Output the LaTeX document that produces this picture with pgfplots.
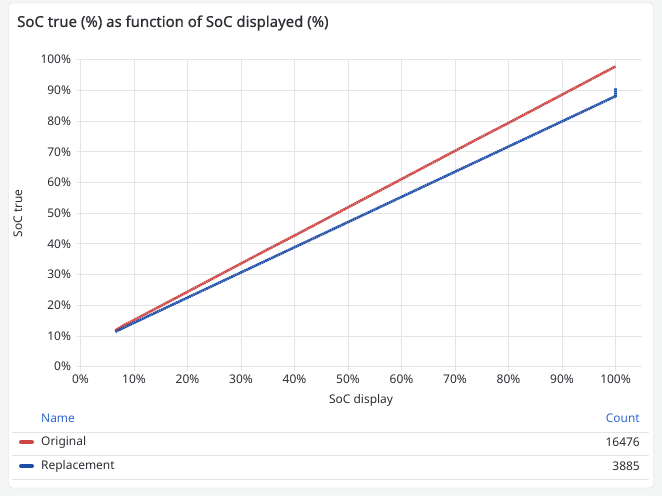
\documentclass[border=0pt]{standalone}
\usepackage{fontspec}
\setmainfont{Noto Sans}
\newfontfamily\titlefont{Noto Sans}[FakeBold=0.6]
\usepackage{pgfplots}
\pgfplotsset{compat=1.18}

\definecolor{pagebg}{HTML}{F4F5F5}
\definecolor{cardline}{HTML}{DCDDDE}
\definecolor{gridc}{HTML}{E4E5E6}
\definecolor{txt}{HTML}{2B2E33}
\definecolor{linkblue}{HTML}{3368D0}
\definecolor{origred}{HTML}{CC4646}
\definecolor{replblue}{HTML}{1F4EA8}

% SoC true vs SoC displayed, original battery
\pgfplotstableread{
x     y
6.5   11.8
8     13.4
10    15.2
15    19.8
20    24.4
25    29.0
30    33.6
35    38.2
40    42.7
45    47.3
50    51.9
55    56.5
60    61.1
65    65.7
70    70.3
75    74.9
80    79.4
85    84.0
90    88.6
95    93.2
100   97.8
}\original

% SoC true vs SoC displayed, replacement battery
\pgfplotstableread{
x     y
6.5   11.4
10    14.3
15    18.4
20    22.5
25    26.6
30    30.7
35    34.8
40    38.9
45    43.0
50    47.1
55    51.2
60    55.3
65    59.4
70    63.5
75    67.6
80    71.7
85    75.8
90    79.9
95    84.0
99    87.3
100   88.1
100   89.2
100   90.7
}\replacement

\begin{document}
\begin{tikzpicture}[x=1bp,y=1bp]
% panel background and card
\fill[pagebg] (0,0) rectangle (662,496);
\draw[cardline,fill=white,rounded corners=4bp] (8.5,8) rectangle (653.5,493);

% title
\node[anchor=west,text=txt,font=\titlefont\fontsize{15}{17}\selectfont,inner sep=0pt] at (17,473)
  {SoC true (\%) as function of SoC displayed (\%)};

\begin{axis}[
  at={(80.5bp,129.3bp)}, anchor=south west,
  scale only axis, width=561.2bp, height=307bp,
  xmin=0, xmax=104.9, ymin=0, ymax=100,
  xtick={0,10,...,100}, ytick={0,10,...,100},
  xticklabel={\pgfmathprintnumber{\tick}\%},
  yticklabel={\pgfmathprintnumber{\tick}\%},
  /pgf/number format/assume math mode=true,
  tick label style={text=txt,font=\fontsize{12}{14}\selectfont},
  xticklabel style={yshift=-1bp},
  yticklabel style={xshift=-2bp},
  axis line style={draw=none},
  grid=major, major grid style={gridc,line width=0.8bp},
  tick align=outside, xtick pos=left, ytick pos=left,
  major tick length=4bp, tick style={gridc,line width=0.8bp},
  xlabel={SoC display}, ylabel={SoC true},
  label style={text=txt,font=\fontsize{12}{14}\selectfont},
  xlabel style={at={(axis description cs:0.5,-0.1107)},anchor=center},
  ylabel style={at={(axis description cs:-0.1114,0.5)},anchor=center,rotate=0},
  clip=false,
]
% densely dotted strokes, as the readings are drawn as many small points
\addplot[origred,line width=2.6bp,dash pattern=on 1.6bp off 0.5bp] table[x=x,y=y] {\original};
\addplot[replblue,line width=2.6bp,dash pattern=on 1.6bp off 0.5bp] table[x=x,y=y] {\replacement};
\end{axis}

% legend table
\node[anchor=west,text=linkblue,font=\fontsize{12}{14}\selectfont,inner sep=0pt] at (41,78) {Name};
\node[anchor=east,text=linkblue,font=\fontsize{12}{14}\selectfont,inner sep=0pt] at (640,78) {Count};
\draw[gridc,line width=0.8bp] (12,64) -- (649,64);
\draw[gridc,line width=0.8bp] (12,41) -- (649,41);
\draw[gridc,line width=0.8bp] (12,17) -- (649,17);
\draw[origred,line width=4bp,line cap=round] (21,54) -- (32,54);
\draw[replblue,line width=4bp,line cap=round] (21,30) -- (32,30);
\node[anchor=west,text=txt,font=\fontsize{12}{14}\selectfont,inner sep=0pt] at (41,54) {Original};
\node[anchor=east,text=txt,font=\fontsize{12}{14}\selectfont,inner sep=0pt] at (640,54) {16476};
\node[anchor=west,text=txt,font=\fontsize{12}{14}\selectfont,inner sep=0pt] at (41,30) {Replacement};
\node[anchor=east,text=txt,font=\fontsize{12}{14}\selectfont,inner sep=0pt] at (640,30) {3885};
\end{tikzpicture}
\end{document}
